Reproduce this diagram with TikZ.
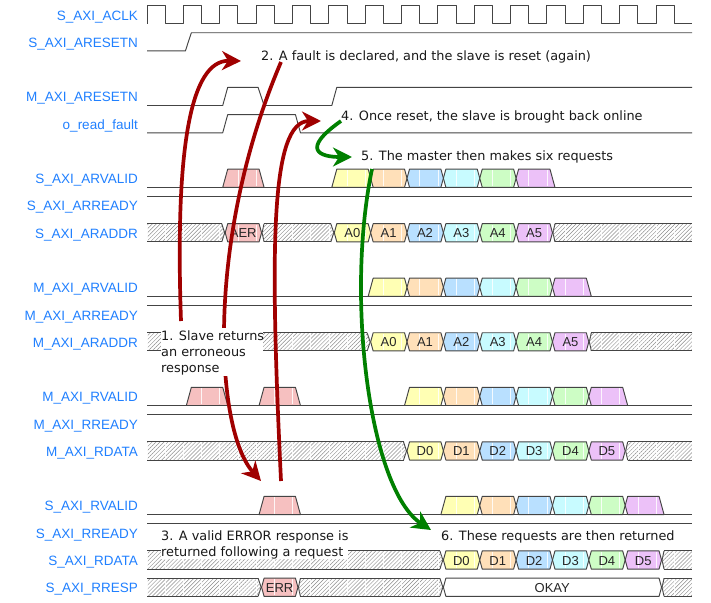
\documentclass[tikz,border=0pt]{standalone}
\usepackage{fontspec}
\setmainfont{DejaVu Sans}
\newfontfamily\wavefont{Liberation Sans}
\usetikzlibrary{arrows.meta,patterns.meta}
\definecolor{sigblue}{HTML}{2080FF}
\definecolor{cyel}{HTML}{FFFFB4}
\definecolor{cora}{HTML}{FFE0B9}
\definecolor{cblu}{HTML}{B9E0FF}
\definecolor{ccya}{HTML}{C8FBFF}
\definecolor{cgre}{HTML}{CDFDC5}
\definecolor{cpur}{HTML}{ECC1F8}
\definecolor{cred}{HTML}{F6C0C0}
\definecolor{waveline}{HTML}{444444}
\definecolor{darkred}{HTML}{A00000}
\definecolor{darkgreen}{HTML}{008000}
\tikzset{
  wave/.style={draw=waveline,line width=0.95pt,line join=round},
  hatchfill/.style={pattern={Lines[angle=45,distance=2.8pt,line width=0.45pt]},pattern color=black!45},
  gridline/.style={white,line width=0.6pt,opacity=0.85},
  siglabel/.style={font=\wavefont\fontsize{13.5}{16}\selectfont,text=sigblue,anchor=base east,inner sep=0pt},
  datalabel/.style={font=\wavefont\fontsize{13}{15}\selectfont,text=black!85,anchor=base,inner sep=0pt},
  note/.style={font=\fontsize{12.85}{16}\selectfont,align=left,anchor=north west,inner sep=0pt,text=black!90},
  redarrow/.style={draw=darkred,line width=3.7pt,-{Stealth[length=19pt,width=19pt,inset=6pt]}},
  greenarrow/.style={draw=darkgreen,line width=3.7pt,-{Stealth[length=19pt,width=19pt,inset=6pt]}},
}
\newcommand\geo[3]{%
  \pgfmathsetmacro\rT{5.5+27.27*#1}%
  \pgfmathsetmacro\rB{\rT+18.2}%
  \pgfmathsetmacro\rM{\rT+9.1}%
  \pgfmathsetmacro\xA{147+36.36*#2}%
  \pgfmathsetmacro\xB{147+36.36*#3}}
\newcommand\lowline[3]{\geo{#1}{#2}{#3}\draw[wave] (\xA,\rB) -- (\xB,\rB);}
\newcommand\highline[3]{\geo{#1}{#2}{#3}\draw[wave] (\xA,\rT) -- (\xB,\rT);}
\newcommand\hexb[4]{\geo{#1}{#2}{#3}%
  \path[wave,fill=#4] (\xA+5.5,\rM) -- (\xA+8,\rT) -- (\xB+3,\rT) -- (\xB+5.5,\rM) -- (\xB+3,\rB) -- (\xA+8,\rB) -- cycle;}
\newcommand\riseb[4]{\geo{#1}{#2}{#3}%
  \path[wave,fill=#4] (\xA+3,\rB) -- (\xA+8,\rT) -- (\xB+3,\rT) -- (\xB+5.5,\rM) -- (\xB+3,\rB) -- cycle;}
\newcommand\fallb[4]{\geo{#1}{#2}{#3}%
  \path[wave,fill=#4] (\xA+5.5,\rM) -- (\xA+8,\rT) -- (\xB+3,\rT) -- (\xB+8,\rB) -- (\xA+8,\rB) -- cycle;}
\newcommand\pulseb[4]{\geo{#1}{#2}{#3}%
  \path[wave,fill=#4] (\xA+3,\rB) -- (\xA+8,\rT) -- (\xB+3,\rT) -- (\xB+8,\rB) -- cycle;}
\newcommand\hatchb[3]{\geo{#1}{#2}{#3}%
  \ifnum#2=0
    \edef\hl{(147,\rB) -- (147,\rT)}\edef\hlT{147}%
  \else
    \pgfmathsetmacro\hlT{\xA+8}%
    \pgfmathsetmacro\hlM{\xA+6}%
    \edef\hl{(\hlT,\rB) -- (\hlM,\rM) -- (\hlT,\rT)}%
    \draw[wave] \hl;
  \fi
  \ifnum#3=15
    \edef\hr{(692,\rT) -- (692,\rB)}\edef\hrT{692}%
  \else
    \pgfmathsetmacro\hrT{\xB+2}%
    \pgfmathsetmacro\hrM{\xB+5}%
    \edef\hr{(\hrT,\rT) -- (\hrM,\rM) -- (\hrT,\rB)}%
    \draw[wave] \hr;
  \fi
  \path[hatchfill] \hl -- \hr -- cycle;
  \draw[wave] (\hlT,\rT) -- (\hrT,\rT) (\hlT,\rB) -- (\hrT,\rB);}
\newcommand\dlab[4]{\pgfmathsetmacro\rT{5.5+27.27*#1+14.1}\pgfmathsetmacro\xA{147+36.36*#2+23.5}%
  \node[datalabel] (#4) at (\xA,\rT) {#3};}
\newcommand\slab[3]{\pgfmathsetmacro\rT{5.5+27.27*#1+14.6}%
  \node[siglabel] (#3) at (138,\rT) {#2};}
\begin{document}
\begin{tikzpicture}[x=1pt,y=-1pt]
\useasboundingbox (0,0) rectangle (711,602);
\fill[white] (0,0) rectangle (711,602);
% signal names
\slab{0}{S\_AXI\_ACLK}{n0}
\slab{1}{S\_AXI\_ARESETN}{n1}
\slab{3}{M\_AXI\_ARESETN}{n3}
\slab{4}{o\_read\_fault}{n4}
\slab{6}{S\_AXI\_ARVALID}{n6}
\slab{7}{S\_AXI\_ARREADY}{n7}
\slab{8}{S\_AXI\_ARADDR}{n8}
\slab{10}{M\_AXI\_ARVALID}{n10}
\slab{11}{M\_AXI\_ARREADY}{n11}
\slab{12}{M\_AXI\_ARADDR}{n12}
\slab{14}{M\_AXI\_RVALID}{n14}
\slab{15}{M\_AXI\_RREADY}{n15}
\slab{16}{M\_AXI\_RDATA}{n16}
\slab{18}{S\_AXI\_RVALID}{n18}
\slab{19}{S\_AXI\_RREADY}{n19}
\slab{20}{S\_AXI\_RDATA}{n20}
\slab{21}{S\_AXI\_RRESP}{n21}
% clock
\geo{0}{0}{15}
\draw[wave] (147,\rB) \foreach \c in {0,...,14} {-- ({147+36.36*\c},\rT) -- ({147+36.36*(\c+0.5)},\rT) -- ({147+36.36*(\c+0.5)},\rB) -- ({147+36.36*(\c+1)},\rB)};
% S_AXI_ARESETN
\geo{1}{0}{1}
\draw[wave] (147,\rB) -- (\xB+2,\rB) -- (\xB+8,\rT) -- (692,\rT);
% M_AXI_ARESETN
\geo{3}{2}{3}
\draw[wave] (147,\rB) -- (\xA+3,\rB) -- (\xA+8,\rT) -- (\xB+2,\rT) -- (\xB+8,\rB) -- (147+36.36*5+3,\rB) -- (147+36.36*5+8,\rT) -- (692,\rT);
% o_read_fault
\geo{4}{2}{4}
\draw[wave] (147,\rB) -- (\xA+3,\rB) -- (\xA+8,\rT) -- (\xB+3,\rT) -- (\xB+8,\rB) -- (692,\rB);
% S_AXI_ARVALID
\lowline{6}{0}{15}
\pulseb{6}{2}{3}{cred}
\riseb{6}{5}{6}{cyel}
\hexb{6}{6}{7}{cora}
\hexb{6}{7}{8}{cblu}
\hexb{6}{8}{9}{ccya}
\hexb{6}{9}{10}{cgre}
\fallb{6}{10}{11}{cpur}
\highline{7}{0}{15}
% S_AXI_ARADDR
\hatchb{8}{0}{2}
\hexb{8}{2}{3}{cred}
\hatchb{8}{3}{5}
\hexb{8}{5}{6}{cyel}
\hexb{8}{6}{7}{cora}
\hexb{8}{7}{8}{cblu}
\hexb{8}{8}{9}{ccya}
\hexb{8}{9}{10}{cgre}
\hexb{8}{10}{11}{cpur}
\hatchb{8}{11}{15}
% M_AXI_ARVALID
\lowline{10}{0}{15}
\riseb{10}{6}{7}{cyel}
\hexb{10}{7}{8}{cora}
\hexb{10}{8}{9}{cblu}
\hexb{10}{9}{10}{ccya}
\hexb{10}{10}{11}{cgre}
\fallb{10}{11}{12}{cpur}
\highline{11}{0}{15}
% M_AXI_ARADDR
\hatchb{12}{0}{6}
\hexb{12}{6}{7}{cyel}
\hexb{12}{7}{8}{cora}
\hexb{12}{8}{9}{cblu}
\hexb{12}{9}{10}{ccya}
\hexb{12}{10}{11}{cgre}
\hexb{12}{11}{12}{cpur}
\hatchb{12}{12}{15}
% M_AXI_RVALID
\lowline{14}{0}{15}
\pulseb{14}{1}{2}{cred}
\pulseb{14}{3}{4}{cred}
\riseb{14}{7}{8}{cyel}
\hexb{14}{8}{9}{cora}
\hexb{14}{9}{10}{cblu}
\hexb{14}{10}{11}{ccya}
\hexb{14}{11}{12}{cgre}
\fallb{14}{12}{13}{cpur}
\highline{15}{0}{15}
% M_AXI_RDATA
\hatchb{16}{0}{7}
\hexb{16}{7}{8}{cyel}
\hexb{16}{8}{9}{cora}
\hexb{16}{9}{10}{cblu}
\hexb{16}{10}{11}{ccya}
\hexb{16}{11}{12}{cgre}
\hexb{16}{12}{13}{cpur}
\hatchb{16}{13}{15}
% S_AXI_RVALID
\lowline{18}{0}{15}
\pulseb{18}{3}{4}{cred}
\riseb{18}{8}{9}{cyel}
\hexb{18}{9}{10}{cora}
\hexb{18}{10}{11}{cblu}
\hexb{18}{11}{12}{ccya}
\hexb{18}{12}{13}{cgre}
\fallb{18}{13}{14}{cpur}
\highline{19}{0}{15}
% S_AXI_RDATA
\hatchb{20}{0}{8}
\hexb{20}{8}{9}{cyel}
\hexb{20}{9}{10}{cora}
\hexb{20}{10}{11}{cblu}
\hexb{20}{11}{12}{ccya}
\hexb{20}{12}{13}{cgre}
\hexb{20}{13}{14}{cpur}
\hatchb{20}{14}{15}
% S_AXI_RRESP
\hatchb{21}{0}{3}
\hexb{21}{3}{4}{cred}
\hatchb{21}{4}{8}
\hexb{21}{8}{14}{white}
\hatchb{21}{14}{15}
% white grid inside the boxes only
\foreach \r in {6,8,10,12,14,16,18,20,21} {
  \pgfmathsetmacro\gT{5.5+27.27*\r+1}
  \pgfmathsetmacro\gB{\gT+16.2}
  \foreach \k in {0,...,30} \draw[gridline] ({147+18.18*\k},\gT) -- ({147+18.18*\k},\gB);
}
% data labels
\dlab{8}{2}{AER}{t82}
\foreach \c/\s [count=\n from 5] in {0/A0,1/A1,2/A2,3/A3,4/A4,5/A5} {\dlab{8}{\n}{\s}{t8\c}\pgfmathtruncatemacro\m{\n+1}\dlab{12}{\m}{\s}{tc\c}}
\foreach \c/\s [count=\n from 7] in {0/D0,1/D1,2/D2,3/D3,4/D4,5/D5} {\dlab{16}{\n}{\s}{tg\c}\pgfmathtruncatemacro\m{\n+1}\dlab{20}{\m}{\s}{tk\c}}
\dlab{21}{3}{ERR}{tERR}
\dlab{21}{10.5}{OKAY}{tOK}
% arrow ends
\coordinate (a1s) at (181,321);  \coordinate (a1e) at (241,61);
\coordinate (a2s) at (281,62);   \coordinate (a2e) at (261,481);
\coordinate (a3s) at (281,481);  \coordinate (a3e) at (321,121);
\coordinate (a4s) at (341,121);  \coordinate (a4e) at (352,157);
\coordinate (a5s) at (372,169);  \coordinate (a5e) at (431,530);
\draw[redarrow] (a1s) .. controls (175,150) and (190,60) .. (a1e);
\draw[redarrow] (a2s) .. controls (205,240) and (215,430) .. (a2e);
\draw[redarrow] (a3s) .. controls (270,250) and (270,121) .. (a3e);
\draw[greenarrow] (a4s) .. controls (300,150) and (320,157) .. (a4e);
\draw[greenarrow] (a5s) .. controls (345,300) and (370,490) .. (a5e);
% notes
\fill[white] (161,328) rectangle (263,376);
\fill[white] (161,528) rectangle (348,558.7);
\node[note] (note1) at (161,331) {1. Slave returns\\an erroneous\\response};
\node[note] (note2) at (261,51) {2. A fault is declared, and the slave is reset (again)};
\node[note] (note3) at (161,531) {3. A valid ERROR response is\\returned following a request};
\node[note] (note4) at (341,111) {4. Once reset, the slave is brought back online};
\node[note] (note5) at (361,151) {5. The master then makes six requests};
\node[note] (note6) at (441,531) {6. These requests are then returned};
\end{tikzpicture}
\end{document}
